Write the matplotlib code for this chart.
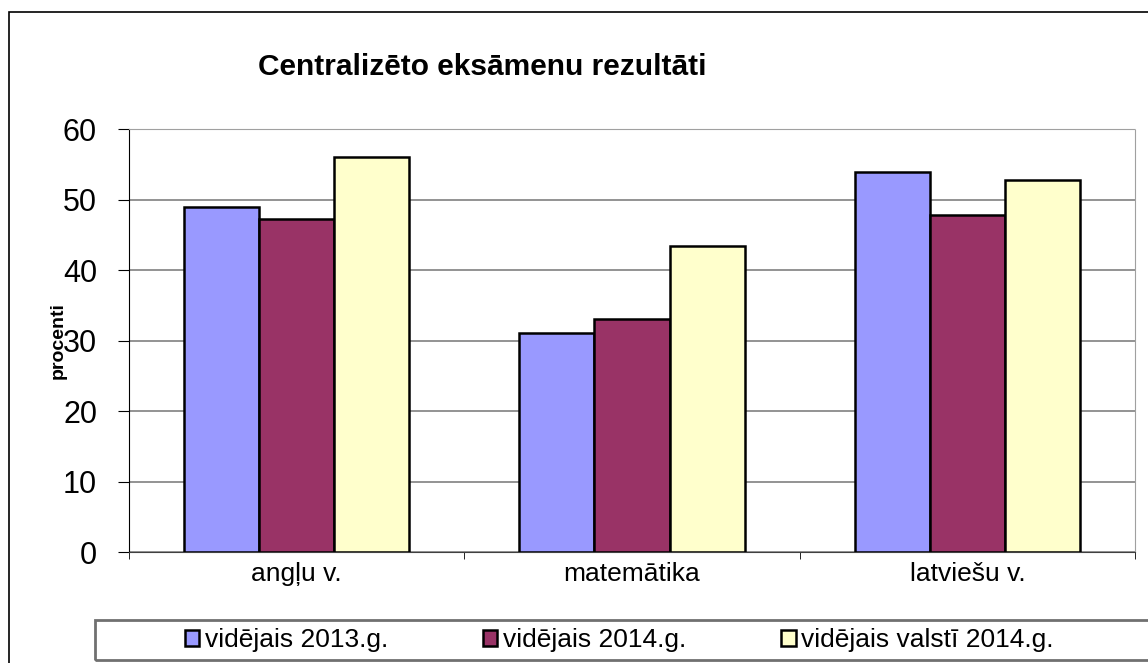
import numpy as np
import matplotlib.pyplot as plt
from matplotlib.patches import Rectangle

plt.rcParams['font.family'] = ['Liberation Sans', 'DejaVu Sans']

# dati
kategorijas = ['angļu v.', 'matemātika', 'latviešu v.']
serijas = ['vidējais 2013.g.', 'vidējais 2014.g.', 'vidējais valstī 2014.g.']
v2013 = [49.0, 31.1, 53.9]
v2014 = [47.2, 33.0, 47.8]
valsti2014 = [56.0, 43.4, 52.7]
krasas = ['#9999FF', '#993366', '#FFFFCC']

fig = plt.figure(figsize=(11.48, 6.63), dpi=100)
ax = fig.add_axes([0.1124, 0.1674, 0.8763, 0.638])

x = np.arange(len(kategorijas))
w = 0.224
for i, (vert, nos) in enumerate(zip([v2013, v2014, valsti2014], serijas)):
    ax.bar(x + (i - 1) * w, vert, w, color=krasas[i], edgecolor='black',
           linewidth=1.8, label=nos, zorder=3)

ax.set_xlim(-0.5, 2.5)
ax.set_ylim(0, 60)
ax.set_yticks(range(0, 61, 10))
ax.tick_params(axis='y', labelsize=22, length=8, direction='out', pad=15)
ax.set_xticks(x)
ax.set_xticklabels(kategorijas, fontsize=19)
ax.tick_params(axis='x', length=0, pad=7)
ax.set_xticks([-0.5, 0.5, 1.5, 2.5], minor=True)
ax.tick_params(axis='x', which='minor', length=5, direction='out')
ax.grid(axis='y', color='#808080', linewidth=1.2, zorder=0)

for s in ['top', 'right']:
    ax.spines[s].set_color('#a0a0a0')
    ax.spines[s].set_linestyle((0, (2, 1)))
ax.spines['left'].set_color('black')
ax.spines['bottom'].set_color('#404040')

ax.set_ylabel('procenti', fontsize=14, fontweight='bold')
ax.yaxis.set_label_coords(-0.0616, 0.499)

fig.text(0.2247, 0.8869, 'Centralizēto eksāmenu rezultāti', fontsize=21.5,
         fontweight='bold', ha='left', va='baseline')

# ārējais rāmis
fig.patches.append(Rectangle((0.008, -0.1), 1.1, 1.082, transform=fig.transFigure,
                             fill=False, edgecolor='black', linewidth=1.2))

# leģenda
fig.patches.append(Rectangle((0.083, 0.004), 1.0, 0.061, transform=fig.transFigure,
                             fill=False, edgecolor='#707070', linewidth=2))
leg = fig.legend(loc='center left', bbox_to_anchor=(0.1519, 0.034), ncol=3,
                 fontsize=19, frameon=False, handlelength=0.55, handleheight=0.55,
                 handletextpad=0.2, columnspacing=3.6, borderaxespad=0)

fig.savefig('out.png', dpi=100)
